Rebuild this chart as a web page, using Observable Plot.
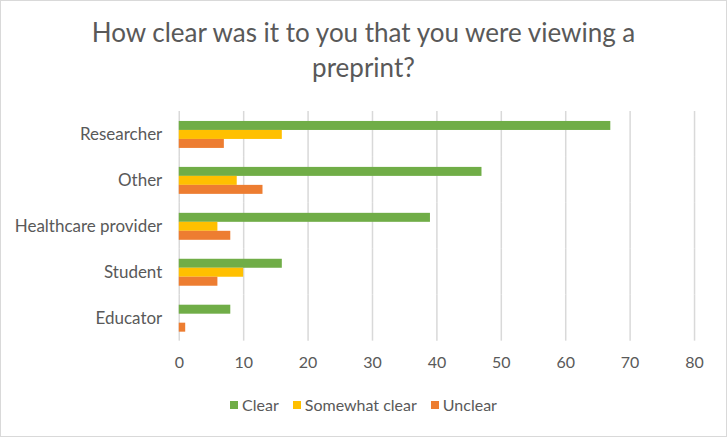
<!DOCTYPE html>
<html>
<head>
<meta charset="utf-8">
<script src="https://cdn.jsdelivr.net/npm/d3@7"></script>
<script src="https://cdn.jsdelivr.net/npm/@observablehq/plot@0.6"></script>
<style>
  html, body { margin: 0; padding: 0; background: #fff; }
  #chart { position: relative; width: 727px; height: 437px; box-sizing: border-box; border: 1px solid #d9d9d9; background: #fff; font-family: Lato, "Open Sans", sans-serif; color: #595959; overflow: hidden; }
  #title { position: absolute; left: 0; top: 14px; width: 725px; text-align: center; font-size: 26px; line-height: 35px; color: #595959; }
  #plot { position: absolute; left: -1px; top: 93px; }
  #plot g[aria-label="fy-axis tick label"] { font-size: 17px; }
  #legend { position: absolute; left: 0; top: 394px; width: 725px; display: flex; justify-content: center; gap: 14px; font-size: 16px; line-height: 20px; color: #595959; }
  #legend span.item { display: flex; align-items: center; }
  #legend span.sw { display: inline-block; width: 8px; height: 8px; margin-right: 4px; }
</style>
</head>
<body>
<div id="chart">
  <div id="title">How clear was it to you that you were viewing a<br>preprint?</div>
  <div id="plot"></div>
  <div id="legend"></div>
</div>
<script>
const categories = ["Researcher", "Other", "Healthcare provider", "Student", "Educator"];
const series = ["Clear", "Somewhat clear", "Unclear"];
const clearValues = [67, 47, 39, 16, 8];
const somewhatValues = [16, 9, 6, 10, 0];
const unclearValues = [7, 13, 8, 6, 1];
const colors = ["#70AD47", "#FFC000", "#ED7D31"];
const xTicks = [0, 10, 20, 30, 40, 50, 60, 70, 80];

const valuesBySeries = [clearValues, somewhatValues, unclearValues];
const rows = [];
categories.forEach((c, i) => {
  series.forEach((s, j) => {
    rows.push({category: c, series: s, value: valuesBySeries[j][i]});
  });
});

const chart = Plot.plot({
  width: 727,
  height: 290,
  marginLeft: 179,
  marginRight: 32,
  marginTop: 16,
  marginBottom: 42,
  style: {fontFamily: "Lato, 'Open Sans', sans-serif", fontSize: "16px", color: "#595959", background: "transparent"},
  x: {domain: [0, 80], ticks: xTicks, tickSize: 0, tickPadding: 16, label: null, tickFormat: d => String(d)},
  fy: {domain: categories, label: null, padding: 0, axis: "left", tickSize: 0, tickPadding: 17},
  y: {domain: series, axis: null, paddingInner: 0, paddingOuter: 0.94},
  color: {domain: series, range: colors},
  marks: [
    Plot.gridX(xTicks, {stroke: "#d9d9d9", strokeOpacity: 1, strokeWidth: 1.5}),
    Plot.barX(rows, {x: "value", y: "series", fy: "category", fill: "series", insetTop: 0, insetBottom: 0})
  ]
});
document.getElementById("plot").appendChild(chart);

const legend = document.getElementById("legend");
series.forEach((s, j) => {
  const item = document.createElement("span");
  item.className = "item";
  const sw = document.createElement("span");
  sw.className = "sw";
  sw.style.background = colors[j];
  item.appendChild(sw);
  item.appendChild(document.createTextNode(s));
  legend.appendChild(item);
});
</script>
</body>
</html>
